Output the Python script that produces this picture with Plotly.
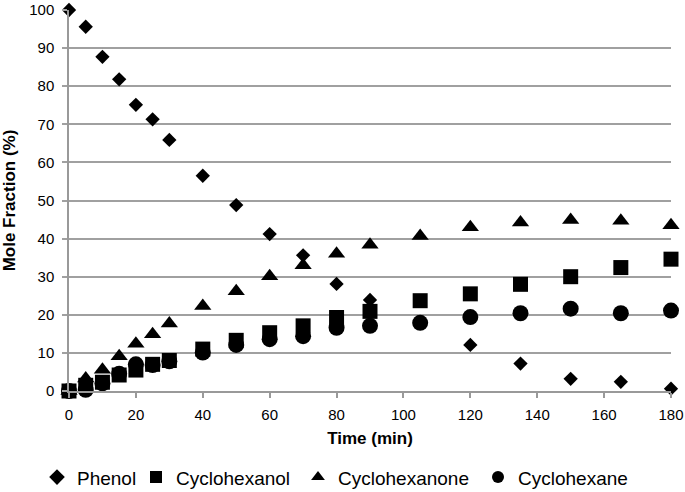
import plotly.graph_objects as go

time_min = [0, 5, 10, 15, 20, 25, 30, 40, 50, 60, 70, 80, 90, 105, 120, 135, 150, 165, 180]
phenol = [100, 95.6, 87.7, 81.8, 75.1, 71.3, 65.9, 56.5, 48.8, 41.2, 35.6, 28.1, 23.9, 17.8, 12.1, 7.2, 3.2, 2.4, 0.6]
cyclohexanol = [0, 1.5, 2.3, 4.2, 5.5, 7.0, 8.0, 11.0, 13.3, 15.3, 17.1, 19.3, 20.9, 23.7, 25.5, 28.0, 30.0, 32.4, 34.6]
cyclohexanone = [0, 3.3, 5.6, 9.1, 12.4, 14.9, 17.7, 22.3, 26.2, 30.1, 33.0, 36.0, 38.4, 40.7, 43.0, 44.2, 44.9, 44.7, 43.5]
cyclohexane = [0, 0.3, 2.0, 4.5, 7.0, 6.8, 7.8, 10.1, 12.1, 13.6, 14.4, 16.6, 17.1, 17.9, 19.4, 20.4, 21.6, 20.4, 21.1]

series = [
    ("Phenol", phenol, "diamond", 11),
    ("Cyclohexanol", cyclohexanol, "square", 15),
    ("Cyclohexanone", cyclohexanone, "triangle-up", 15),
    ("Cyclohexane", cyclohexane, "circle", 16),
]
# left edge (container fraction) of each legend entry
legend_x = [37 / 685, 136 / 685, 298 / 685, 478 / 685]

font_family = "Liberation Sans, Arial, sans-serif"
fig = go.Figure()
legend_layouts = {}
for i, ((name, vals, sym, sz), lx) in enumerate(zip(series, legend_x)):
    key = "legend" if i == 0 else f"legend{i + 1}"
    fig.add_trace(go.Scatter(
        x=time_min, y=vals, mode="markers", name=name,
        marker=dict(symbol=sym, size=sz, color="black"),
        cliponaxis=False, legend=key,
    ))
    legend_layouts[key] = dict(
        orientation="h", xref="container", x=lx, xanchor="left",
        yref="container", y=0.03, yanchor="middle",
        font=dict(size=19, family=font_family), itemsizing="constant", itemwidth=30,
        bgcolor="rgba(0,0,0,0)",
    )

fig.update_layout(
    width=685, height=492,
    margin=dict(l=69, r=14, t=10, b=101),
    paper_bgcolor="white", plot_bgcolor="white",
    font=dict(family=font_family, size=15, color="black"),
    showlegend=True,
    xaxis=dict(
        range=[0, 180], tickmode="array", tickvals=list(range(0, 181, 20)),
        showgrid=False, zeroline=False, automargin=False,
        showline=True, linecolor="#999999", linewidth=1.5,
        ticks="outside", ticklen=5, tickcolor="#999999", tickwidth=1.5,
        tickfont=dict(size=15), ticklabelstandoff=4,
        title=dict(text="<b>Time (min)</b>", font=dict(size=17), standoff=10),
    ),
    yaxis=dict(
        range=[0, 100], tickmode="array", tickvals=list(range(0, 101, 10)),
        showgrid=True, gridcolor="#a0a0a0", gridwidth=1.5,
        zeroline=False, automargin=False,
        showline=True, linecolor="#999999", linewidth=1.5,
        ticks="outside", ticklen=5, tickcolor="#a0a0a0", tickwidth=1.5,
        tickfont=dict(size=15), ticklabelstandoff=5,
        title=dict(text="<b>Mole Fraction (%)</b>", font=dict(size=17), standoff=12),
    ),
    **legend_layouts,
)

fig.write_html("out.html", config={"displayModeBar": False},
               post_script="document.body.style.margin='0';")
